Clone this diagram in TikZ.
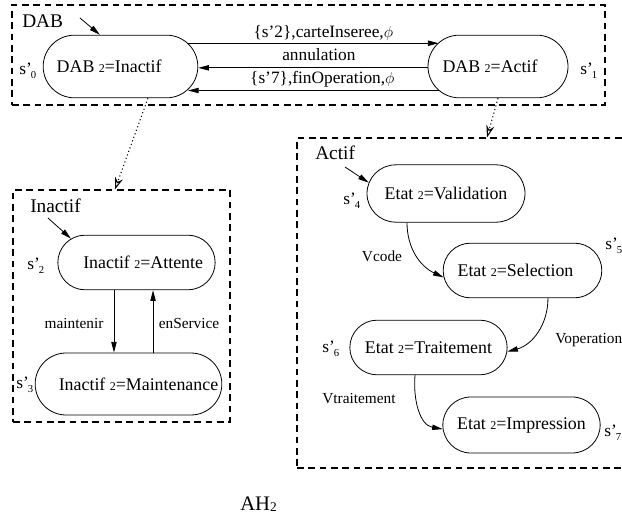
\documentclass[tikz,border=0pt]{standalone}
\usepackage{fontspec}
\setmainfont{Liberation Serif}
\usetikzlibrary{shapes.misc,arrows.meta}
% small "2" used inside the state texts
\newcommand\tw{{\fontsize{9}{9}\selectfont 2}}
% state names s'n with a small lowered index
\newcommand\sid[1]{s’\kern-0.6pt\raisebox{-0.4ex}{\fontsize{8}{8}\selectfont #1}}
\begin{document}
\begin{tikzpicture}[x=0.75pt,y=-0.75pt,
  state/.style={draw, line width=0.6pt, rounded rectangle, inner sep=0pt,
    font=\fontsize{13.4}{16}\selectfont},
  zone/.style={draw, line width=0.8pt, dash pattern=on 5pt off 3.5pt, inner sep=0pt},
  topzone/.style={zone, line width=1.1pt},
  tr/.style={line width=0.6pt, -{Triangle[length=8pt,width=4pt]}},
  refine/.style={line width=0.8pt, dotted, -{Stealth[open,length=9pt,width=6pt]}},
  toplab/.style={font=\fontsize{13}{15}\selectfont, inner sep=0pt, anchor=base},
  lab/.style={font=\fontsize{11.5}{13}\selectfont, inner sep=0pt, anchor=base},
  ttl/.style={font=\fontsize{14.5}{17}\selectfont, inner sep=0pt, anchor=base west},
  slab/.style={font=\fontsize{13}{15}\selectfont, inner sep=0pt, anchor=base west}]
\useasboundingbox (0,0) rectangle (622,520);
\clip (0,0) rectangle (622,520);

% ---------- top level: DAB ----------
\node[topzone, minimum width=444.75pt, minimum height=75pt] (zdab) at (308.5,55) {};
\node[ttl] (tdab) at (22,28) {DAB};
\node[state, minimum width=116pt, minimum height=47pt] (ina) at (120.5,66.5)
  {\makebox[0pt]{DAB \tw=Inactif\hspace*{17pt}}};
\node[state, minimum width=105pt, minimum height=47pt] (act) at (498,66.5)
  {\makebox[0pt]{DAB \tw=Actif\hspace*{12pt}}};
\node[slab] (l0) at (19,75) {\sid{0}};
\node[slab] (l1) at (580,75) {\sid{1}};
\coordinate (i0) at (80,18);
\draw[tr] (i0) -- (ina.123);

\draw[tr] (ina.19.4) -- (act.158.5 |- ina.19.4)
  node[toplab, pos=.54, yshift=4.5pt] {\{s’2\},carteInseree,$\phi$};
\draw[tr] ([yshift=-1pt]act.west) -- ([yshift=-1pt]ina.east)
  node[toplab, pos=.474, yshift=5.5pt] {annulation};
\draw[tr] (act.-158.5) -- (ina.-19.4 |- act.-158.5)
  node[toplab, pos=.464, yshift=5.5pt] {\{s’7\},finOperation,$\phi$};

% ---------- refinement of Inactif ----------
\node[zone, minimum width=162.75pt, minimum height=174pt] (zin) at (121.5,306) {};
\node[ttl] (tin) at (30,213) {Inactif};
\node[state, minimum width=118pt, minimum height=41pt] (att) at (136.5,262.5)
  {\makebox[0pt]{\hspace*{10pt}Inactif \tw=Attente}};
\node[state, minimum width=140pt, minimum height=46.5pt] (mnt) at (128.5,384)
  {\makebox[0pt]{\hspace*{15pt}Inactif \tw=Maintenance}};
\node[slab] (l2) at (27,270) {\sid{2}};
\node[slab] (l3) at (16,389) {\sid{3}};
\coordinate (i2) at (48,218);
\draw[tr] (i2) -- (att.160);
\draw[tr] ([xshift=-16.9pt]att.south) -- ([xshift=-16.9pt]att.south |- mnt.north);
\draw[tr] ([xshift=12.4pt]att.south |- mnt.north) -- ([xshift=12.4pt]att.south);
\node[lab] (lm) at (74,329) {maintenir};
\node[lab] (le) at (189,329) {enService};

% ---------- refinement of Actif ----------
\node[zone, minimum width=257.25pt, minimum height=247.5pt] (zac) at (468.5,303) {};
\node[ttl] (tac) at (315,160) {Actif};
\node[state, minimum width=118.5pt, minimum height=43pt] (val) at (446,193.5)
  {\makebox[0pt]{Etat \tw=Validation}};
\node[state, minimum width=119pt, minimum height=41pt] (sel) at (522.5,270.5)
  {\makebox[0pt]{Etat \tw=Selection\hspace*{10.5pt}}};
\node[state, minimum width=118pt, minimum height=41pt] (trt) at (428.5,347.5)
  {\makebox[0pt]{Etat \tw=Traitement}};
\node[state, minimum width=118pt, minimum height=42pt] (imp) at (521.5,425)
  {\makebox[0pt]{Etat \tw=Impression}};
\node[slab] (l4) at (343,205) {\sid{4}};
\node[slab] (l5) at (605,250) {\sid{5}};
\node[slab] (l6) at (322,353) {\sid{6}};
\node[slab] (l7) at (604,437) {\sid{7}};
\coordinate (i4) at (345,167);
\draw[tr] (i4) -- (val.172);
\draw[tr] ([xshift=-29.25pt]val.south) to[out=-90,in=155] (sel.185);
\draw[tr] ([xshift=19.1pt]sel.south) to[out=-90,in=15] (trt.-3);
\draw[tr] ([xshift=-10.1pt]trt.south) to[out=-95,in=170] (imp.183);
\node[lab] (lv) at (382,262) {Vcode};
\node[lab, anchor=base west] (lo) at (555,344) {Voperation};
\node[lab] (lt) at (359,404) {Vtraitement};

% ---------- refinement links ----------
\draw[refine] ([xshift=20.6pt]ina.south) -- ([xshift=-4.9pt]zin.north);
\draw[refine] (act.south) -- ([xshift=13.9pt]zac.north);

\node[ttl, font=\fontsize{15.5}{18}\selectfont] (tah) at (240,511)
  {AH\raisebox{-0.1ex}{\fontsize{10}{10}\selectfont 2}};
\end{tikzpicture}
\end{document}
